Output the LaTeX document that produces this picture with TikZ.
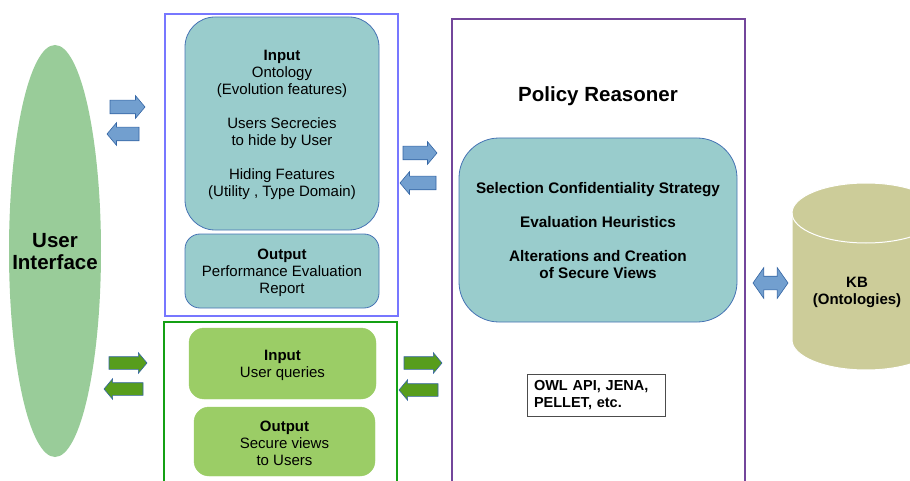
\documentclass[tikz,border=0pt]{standalone}
\usepackage{fontspec}
\setmainfont{Liberation Sans}
\usetikzlibrary{shapes.geometric,shapes.arrows}
\definecolor{uigreen}{RGB}{153,204,153}
\definecolor{tealfill}{RGB}{153,204,204}
\definecolor{tealline}{RGB}{70,115,180}
\definecolor{grnfill}{RGB}{155,205,102}
\definecolor{bluebox}{RGB}{119,119,255}
\definecolor{greenbox}{RGB}{20,160,20}
\definecolor{purplebox}{RGB}{115,70,155}
\definecolor{kbfill}{RGB}{204,204,153}
\definecolor{arrblue}{RGB}{114,159,207}
\definecolor{arrline}{RGB}{52,101,164}
\definecolor{arrgreen}{RGB}{87,157,28}
\begin{document}
\begin{tikzpicture}[x=1pt,y=-1pt,
  txt/.style={font=\fontsize{15}{17}\selectfont, align=center},
  btxt/.style={font=\fontsize{15}{17}\selectfont\bfseries, align=center},
  tealbox/.style={draw=tealline, line width=0.8pt, fill=tealfill, txt, inner sep=0pt},
  grnbox/.style={draw=grnfill, fill=grnfill, txt, inner sep=0pt, rounded corners=15pt},
  barrow/.style={single arrow, single arrow head extend=4.5pt, single arrow tip angle=100,
    inner xsep=0pt, inner ysep=6.5pt, minimum width=0pt, outer sep=0pt,
    draw=arrline, line width=0.6pt, anchor=tail},
  bluearr/.style={barrow, fill=arrblue},
  grnarr/.style={barrow, fill=arrgreen, inner ysep=6pt, single arrow head extend=4pt},
  leftward/.style={shape border rotate=180}
]
\useasboundingbox (0,0) rectangle (910,481);
\clip (0,0) rectangle (910,481);

% User interface
\node[ellipse, fill=uigreen, minimum width=92pt, minimum height=412pt, inner sep=0pt] (ui) at (55,251) {};
\node[font=\fontsize{20.5}{22}\selectfont\bfseries, align=center] (uitext) at (55,252) {User\\Interface};

% outer frames
\draw[bluebox, line width=1.6pt] (165,14) rectangle (398,316);
\draw[greenbox, line width=1.4pt] (164,322) rectangle (397,495);
\draw[purplebox, line width=1.3pt] (452,19) rectangle (745,495);

% blue frame contents
\node[tealbox, rounded corners=30pt, minimum width=194pt, minimum height=213pt] (inp) at (282,123.5) {};
\node[txt] (inptext) at (282,125)
  {\textbf{Input}\\Ontology\\(Evolution features)\\[17pt]Users Secrecies\\to hide by User\\[17pt]Hiding Features\\(Utility , Type Domain)};
\node[tealbox, rounded corners=15pt, minimum width=194pt, minimum height=74pt] (outp) at (282,271) {};
\node[txt] (outptext) at (282,272.5) {\textbf{Output}\\Performance Evaluation\\Report};

% green frame contents
\node[grnbox, minimum width=187pt, minimum height=71pt] (ginp) at (282.5,363.5) {};
\node[txt] (ginptext) at (282.5,365) {\textbf{Input}\\User queries};
\node[grnbox, minimum width=181pt, minimum height=69pt] (goutp) at (284.5,441.5) {};
\node[txt] (gouttext) at (284.5,443) {\textbf{Output}\\Secure views\\to Users};

% policy reasoner
\node[font=\fontsize{20.5}{22}\selectfont\bfseries] (pr) at (598,96.5) {Policy Reasoner};
\node[tealbox, rounded corners=40pt, minimum width=278pt, minimum height=184pt] (strat) at (598,230) {};
\node[align=center, font=\fontsize{15.3}{17}\selectfont\bfseries] (strattext) at (598,231)
  {Selection Confidentiality Strategy\\[17pt]Evaluation Heuristics\\[17pt]Alterations and Creation\\of Secure Views};
\node[draw=black!70, line width=0.8pt, minimum width=138pt, minimum height=42pt, text width=124pt, align=left, inner sep=0pt,
  font=\fontsize{14.5}{16.5}\selectfont\bfseries] (owl) at (596,395) {OWL API, JENA,\\PELLET, etc.};

% KB cylinder
\filldraw[fill=kbfill, draw=white, line width=1pt] (792,213) -- (792,340)
  arc[start angle=180, end angle=360, x radius=74pt, y radius=30pt] -- (940,213)
  arc[start angle=0, end angle=180, x radius=74pt, y radius=30pt] -- cycle;
\draw[white, line width=1pt] (792,213) arc[start angle=180, end angle=360, x radius=74pt, y radius=30pt];
\node[btxt] (kb) at (857,292.5) {KB\\(Ontologies)};

% block arrows
\node[bluearr, minimum height=35pt] (a1) at (110,107) {};
\node[bluearr, leftward, minimum height=32pt] (a2) at (139,134) {};
\node[bluearr, minimum height=34pt] (a3) at (403,153) {};
\node[bluearr, leftward, minimum height=36pt] (a4) at (436,183) {};
\node[grnarr, minimum height=38pt] (g1) at (109,363) {};
\node[grnarr, leftward, minimum height=39pt] (g2) at (143,389) {};
\node[grnarr, minimum height=38pt] (g3) at (404,363) {};
\node[grnarr, leftward, minimum height=39pt] (g4) at (438,390) {};
\node[double arrow, double arrow head extend=8.5pt, double arrow tip angle=110, inner xsep=0pt, inner ysep=6.5pt,
  minimum width=0pt, minimum height=35pt, fill=arrblue, draw=arrline, line width=0.6pt] (kbarr) at (770.5,283) {};
\end{tikzpicture}
\end{document}
